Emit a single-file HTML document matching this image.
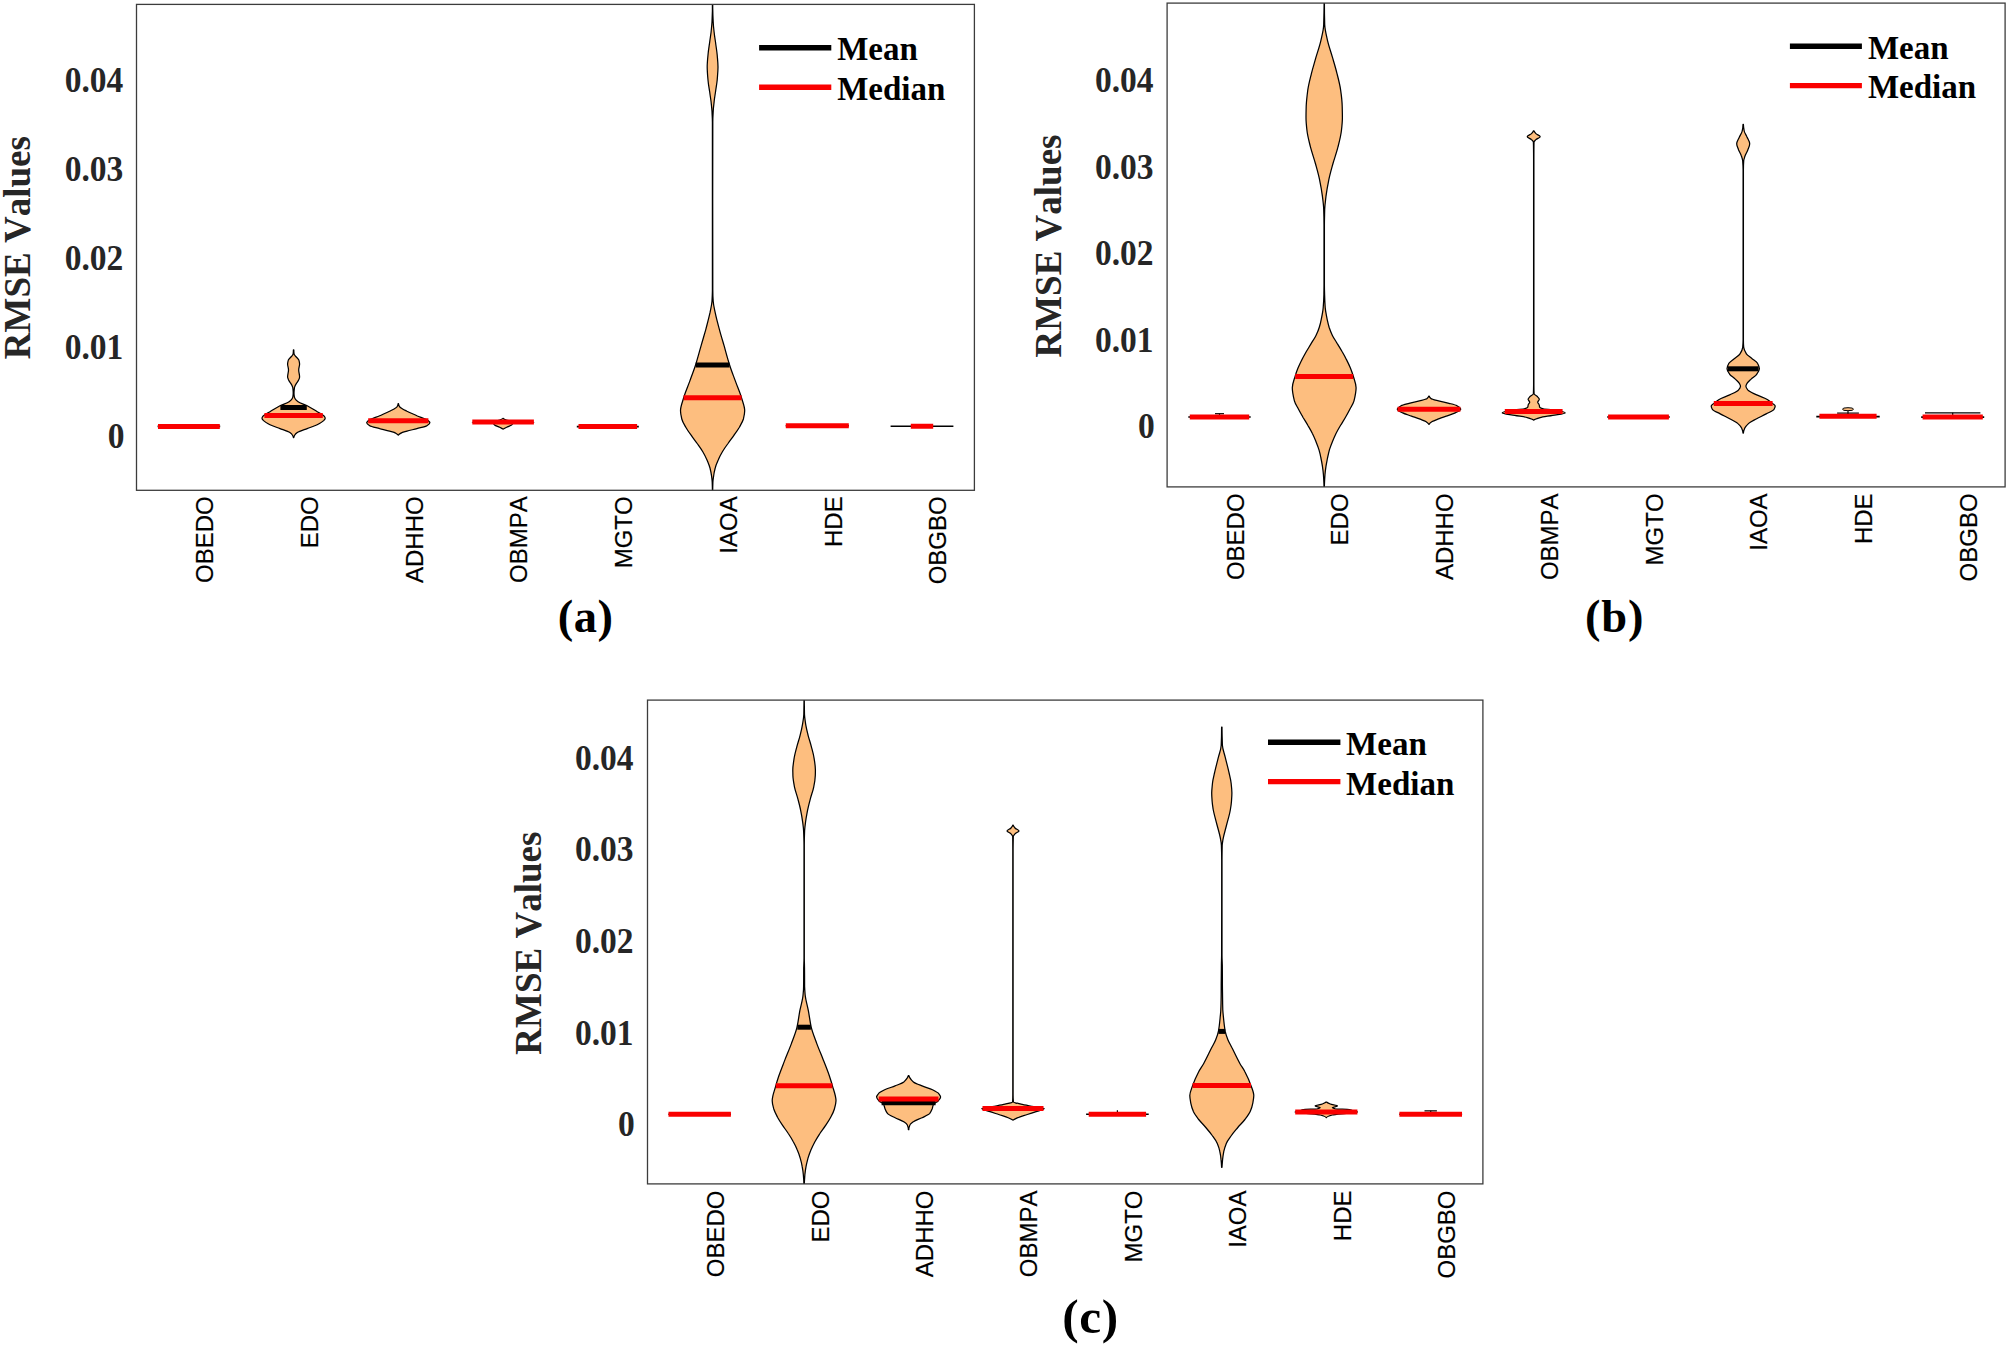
<!DOCTYPE html>
<html lang="en"><head><meta charset="utf-8">
<title>RMSE violin plots</title>
<style>
html,body{margin:0;padding:0;background:#fff;}
body{width:2008px;height:1346px;overflow:hidden;}
svg{display:block;}
.yt{font:bold 33.5px "Liberation Serif","Times New Roman",serif;fill:#262626;text-anchor:end;}
.yl{font:bold 37px "Liberation Serif","Times New Roman",serif;fill:#262626;text-anchor:middle;}
.xt{font:24px "Liberation Sans",Arial,Helvetica,sans-serif;fill:#000;stroke:#000;stroke-width:.2px;text-anchor:end;}
.lg{font:bold 33px "Liberation Serif","Times New Roman",serif;fill:#000;}
.tt{font:bold 46.5px "Liberation Serif","Times New Roman",serif;fill:#000;text-anchor:middle;}
svg text{font-kerning:none !important;font-variant-ligatures:none !important;}
</style></head><body>
<svg width="2008" height="1346" viewBox="0 0 2008 1346">
<rect width="2008" height="1346" fill="#fff"/>
<g id="panel-a">
<clipPath id="clip0"><rect x="136.5" y="4.4" width="837.9" height="485.9"/></clipPath>
<g clip-path="url(#clip0)">
<line x1="157.6" y1="426.4" x2="220.2" y2="426.4" stroke="#000" stroke-width="1.6"/>
<line x1="158" y1="426.4" x2="219.8" y2="426.4" stroke="#FA0000" stroke-width="5.0"/>
<path d="M293.8 349.9C293.8 351.3 293.9 352.6 294.1 354C294.2 354.8 295.2 355.7 295.8 356.5C296.7 357.6 298.4 358.8 298.8 359.9C299.2 361.2 299.6 362.6 299.6 363.9C299.6 365.9 298.7 367.9 298.7 369.9C298.7 372.2 299.6 374.6 299.6 376.9C299.6 377.9 299.1 379 298.6 380C298.2 380.9 297.4 381.9 296.8 382.8C296.3 383.7 295.6 384.6 295.2 385.5C294.9 386.3 294.5 387 294.4 387.8C294.2 389.5 294 391.3 294 393C294 394.2 294.1 395.3 294.3 396.5C294.4 397.3 294.7 398 295.1 398.8C295.6 399.8 296.7 400.8 298.1 401.8C299.9 403.1 304.6 404.4 307.2 405.7C311.1 407.7 314 409.7 317.2 411.7C319.6 413.2 323.1 414.7 324.2 416.2C324.7 416.9 325.2 417.5 325.2 418.2C325.2 419 324.3 419.9 323.6 420.7C322.4 422 319.8 423.4 317.2 424.7C314.6 426 310.5 427.3 307.2 428.6C303.8 429.9 299.2 431.3 297.3 432.6C296.2 433.4 295.3 434.2 294.8 435C294.3 435.9 293.8 436.7 293.8 437.6L293.4 437.6C293.4 436.7 292.9 435.9 292.4 435C292 434.2 291 433.4 289.9 432.6C288 431.3 283.4 429.9 280 428.6C276.7 427.3 272.6 426 270 424.7C267.4 423.4 264.8 422 263.6 420.7C262.9 419.9 262 419 262 418.2C262 417.5 262.5 416.9 263 416.2C264.1 414.7 267.6 413.2 270 411.7C273.2 409.7 276.1 407.7 280 405.7C282.6 404.4 287.3 403.1 289.1 401.8C290.5 400.8 291.6 399.8 292.1 398.8C292.5 398 292.8 397.3 292.9 396.5C293.1 395.3 293.2 394.2 293.2 393C293.2 391.3 293 389.5 292.8 387.8C292.7 387 292.3 386.3 292 385.5C291.6 384.6 291 383.7 290.4 382.8C289.8 381.9 289 380.9 288.6 380C288.2 379 287.6 377.9 287.6 376.9C287.6 374.6 288.5 372.2 288.5 369.9C288.5 367.9 287.6 365.9 287.6 363.9C287.6 362.6 288 361.2 288.4 359.9C288.8 358.8 290.5 357.6 291.4 356.5C292 355.7 293 354.8 293.1 354C293.3 352.6 293.4 351.3 293.4 349.9Z" fill="#FDBE7F" stroke="#000" stroke-width="1.25" stroke-linejoin="round"/>
<line x1="280.4" y1="407.5" x2="306.8" y2="407.5" stroke="#000" stroke-width="5.0"/>
<line x1="264.4" y1="415.4" x2="322.8" y2="415.4" stroke="#FA0000" stroke-width="5.0"/>
<path d="M398.5 403.7C398.5 404.7 399 405.7 399.5 406.7C400 407.5 401.7 408.4 403 409.2C404.1 409.9 405.7 410.5 407 411.2C410.2 412.7 413.7 414.2 416.9 415.7C421 417.5 427.2 419.4 428.9 421.2C429.4 421.7 429.9 422.2 429.9 422.7C429.9 423.7 428.5 424.7 426.9 425.7C425.4 426.7 420.5 427.6 416.9 428.6C413.9 429.4 409.9 430.3 407 431.1C404.8 431.8 402.2 432.4 401 433.1C399.9 433.8 398.8 434.4 398.5 435.1L398.1 435.1C397.9 434.4 396.8 433.8 395.6 433.1C394.5 432.4 391.9 431.8 389.6 431.1C386.8 430.3 382.8 429.4 379.7 428.6C376.2 427.6 371.2 426.7 369.7 425.7C368.2 424.7 366.7 423.7 366.7 422.7C366.7 422.2 367.3 421.7 367.7 421.2C369.4 419.4 375.7 417.5 379.7 415.7C383 414.2 386.5 412.7 389.6 411.2C391 410.5 392.5 409.9 393.6 409.2C395 408.4 396.7 407.5 397.1 406.7C397.7 405.7 398.1 404.7 398.1 403.7Z" fill="#FDBE7F" stroke="#000" stroke-width="1.25" stroke-linejoin="round"/>
<line x1="368.2" y1="420.7" x2="428.4" y2="420.7" stroke="#FA0000" stroke-width="5.0"/>
<path d="M503.3 418.4C503.4 419 505.2 419.7 507.1 420.3C508.4 420.7 509.6 421.2 513.6 421.6C515.7 421.8 534.1 422.1 534.1 422.3C534.1 422.5 514.1 422.8 513.6 423C512.1 423.7 512.5 424.3 511.6 425C510.5 425.8 508.1 426.5 506.6 427.3C505.4 427.9 504.3 428.4 503.3 429L502.9 429C501.8 428.4 500.7 427.9 499.6 427.3C498 426.5 495.6 425.8 494.6 425C493.7 424.3 494.1 423.7 492.6 423C492.1 422.8 472.1 422.5 472.1 422.3C472.1 422.1 490.4 421.8 492.6 421.6C496.6 421.2 497.8 420.7 499.1 420.3C500.9 419.7 502.7 419 502.9 418.4Z" fill="#FDBE7F" stroke="#000" stroke-width="1.25" stroke-linejoin="round"/>
<line x1="472.3" y1="422.1" x2="533.9" y2="422.1" stroke="#FA0000" stroke-width="5.0"/>
<line x1="576.8" y1="426.6" x2="638.8" y2="426.6" stroke="#000" stroke-width="1.6"/>
<line x1="578.5" y1="426.6" x2="637.1" y2="426.6" stroke="#FA0000" stroke-width="5.0"/>
<path d="M712.7 4.4C712.7 6.6 712.7 8.8 712.8 11C712.8 14.7 713 18.3 713.2 22C713.3 25.3 713.7 28.7 714.1 32C714.4 35.3 715 38.7 715.5 42C716 46.3 716.8 50.7 717.2 55C717.5 59 718 63 718 67C718 71.3 717.5 75.7 717.2 80C716.8 84 716 88 715.5 92C715 95.3 714.4 98.7 714.1 102C713.7 105.2 713.3 108.3 713.2 111.5C713 115 712.8 118.5 712.8 122C712.7 148 712.7 174 712.7 200C712.7 230 712.7 260 712.8 290C712.8 293.8 712.9 297.5 713.2 301.3C713.4 305.1 714.4 308.9 715.2 312.7C716.3 318.2 717.8 323.6 719.3 329.1C720.7 334.5 722.4 340 724 345.4C725.8 351.9 727.5 358.5 729.6 365C731.3 370.5 733.5 375.9 735.5 381.4C737.4 386.8 739.9 392.3 741.5 397.7C742.7 402.1 744.7 406.4 744.7 410.8C744.7 413.5 744 416.3 743.4 419C742.7 421.7 740.9 424.5 739.4 427.2C737.8 429.9 735.8 432.7 733.9 435.4C732 438.1 729.9 440.8 728 443.5C726 446.2 724 449 722.4 451.7C720.8 454.4 719.3 457.2 718.2 459.9C717 462.6 715.8 465.3 715.2 468C714.5 470.7 713.9 473.5 713.6 476.2C713.3 478.1 713 480.1 712.9 482C712.8 484.8 712.7 487.5 712.7 490.3L712.4 490.3C712.4 487.5 712.3 484.8 712.2 482C712.1 480.1 711.8 478.1 711.6 476.2C711.2 473.5 710.7 470.7 710 468C709.3 465.3 708.1 462.6 707 459.9C705.8 457.2 704.4 454.4 702.8 451.7C701.2 449 699.1 446.2 697.2 443.5C695.3 440.8 693.1 438.1 691.3 435.4C689.3 432.7 687.3 429.9 685.8 427.2C684.2 424.5 682.4 421.7 681.8 419C681.1 416.3 680.5 413.5 680.5 410.8C680.5 406.4 682.4 402.1 683.7 397.7C685.2 392.3 687.7 386.8 689.7 381.4C691.6 375.9 693.8 370.5 695.6 365C697.6 358.5 699.3 351.9 701.2 345.4C702.7 340 704.4 334.5 705.9 329.1C707.3 323.6 708.8 318.2 710 312.7C710.7 308.9 711.7 305.1 712 301.3C712.2 297.5 712.4 293.8 712.4 290C712.4 260 712.4 230 712.4 200C712.4 174 712.4 148 712.4 122C712.4 118.5 712.1 115 712 111.5C711.8 108.3 711.4 105.2 711.1 102C710.7 98.7 710.1 95.3 709.7 92C709.1 88 708.3 84 708 80C707.6 75.7 707.2 71.3 707.2 67C707.2 63 707.6 59 708 55C708.3 50.7 709.1 46.3 709.7 42C710.1 38.7 710.7 35.3 711.1 32C711.4 28.7 711.8 25.3 712 22C712.1 18.3 712.3 14.7 712.4 11C712.4 8.8 712.4 6.6 712.4 4.4Z" fill="#FDBE7F" stroke="#000" stroke-width="1.25" stroke-linejoin="round"/>
<line x1="695.7" y1="365.1" x2="729.5" y2="365.1" stroke="#000" stroke-width="5.0"/>
<line x1="683.6" y1="397.8" x2="741.6" y2="397.8" stroke="#FA0000" stroke-width="5.0"/>
<line x1="785.7" y1="425.8" x2="848.9" y2="425.8" stroke="#000" stroke-width="1.6"/>
<line x1="785.8" y1="425.8" x2="848.8" y2="425.8" stroke="#FA0000" stroke-width="5.0"/>
<line x1="890.6" y1="426.3" x2="953.4" y2="426.3" stroke="#000" stroke-width="1.6"/>
<line x1="910.8" y1="426.3" x2="933.2" y2="426.3" stroke="#FA0000" stroke-width="5.0"/>
</g>
<rect x="136.5" y="4.4" width="837.9" height="485.9" fill="none" stroke="#3c3c3c" stroke-width="1.3"/>
<text class="yt" transform="translate(124.6 448.1) scale(1 1.05)">0</text>
<text class="yt" transform="translate(123.3 359.1) scale(1 1.05)">0.01</text>
<text class="yt" transform="translate(123.3 270) scale(1 1.05)">0.02</text>
<text class="yt" transform="translate(123.3 180.8) scale(1 1.05)">0.03</text>
<text class="yt" transform="translate(123.3 91.7) scale(1 1.05)">0.04</text>
<text class="yl" transform="translate(29.8 247.6) rotate(-90)">RMSE Values</text>
<text class="xt" transform="translate(213.1 496.3) rotate(-90)">OBEDO</text>
<text class="xt" transform="translate(317.8 496.3) rotate(-90)">EDO</text>
<text class="xt" transform="translate(422.5 496.3) rotate(-90)">ADHHO</text>
<text class="xt" transform="translate(527.3 496.3) rotate(-90)">OBMPA</text>
<text class="xt" transform="translate(632 496.3) rotate(-90)">MGTO</text>
<text class="xt" transform="translate(736.8 496.3) rotate(-90)">IAOA</text>
<text class="xt" transform="translate(841.5 496.3) rotate(-90)">HDE</text>
<text class="xt" transform="translate(946.2 496.3) rotate(-90)">OBGBO</text>
<line x1="759.1" y1="47.8" x2="831.3" y2="47.8" stroke="#000" stroke-width="5.4"/>
<line x1="759.1" y1="87.3" x2="831.3" y2="87.3" stroke="#FA0000" stroke-width="5.4"/>
<text class="lg" x="837.2" y="60.2">Mean</text>
<text class="lg" x="837.2" y="100">Median</text>
<text class="tt" x="585.7" y="631.6" style="font-size:46.5px;letter-spacing:0.55px">(a)</text>
</g>
<g id="panel-b">
<clipPath id="clip1"><rect x="1167.1" y="3.1" width="838" height="483.8"/></clipPath>
<g clip-path="url(#clip1)">
<line x1="1188.3" y1="417" x2="1250.7" y2="417" stroke="#000" stroke-width="1.6"/>
<line x1="1215" y1="413.7" x2="1224" y2="413.7" stroke="#000" stroke-width="1.2"/>
<line x1="1219.5" y1="413.7" x2="1219.5" y2="417" stroke="#000" stroke-width="1.2"/>
<line x1="1189.8" y1="417" x2="1249.2" y2="417" stroke="#FA0000" stroke-width="5.0"/>
<path d="M1324.4 3.1C1324.4 10.2 1324.5 17.4 1324.7 24.5C1324.9 30 1326.4 35.4 1327.6 40.9C1328.8 46.3 1330.9 51.8 1332.4 57.2C1334 62.7 1335.7 68.1 1337 73.6C1338.4 79 1339.9 84.5 1340.6 89.9C1341.4 95.4 1342.1 100.8 1342.2 106.3C1342.3 110.1 1342.4 113.9 1342.4 117.7C1342.4 122.1 1341.9 126.4 1341.4 130.8C1340.8 136.3 1339.3 141.7 1337.9 147.2C1336.6 152.6 1334.5 158.1 1333 163.5C1331.5 169 1329.9 174.4 1328.8 179.9C1327.7 185.3 1326.7 190.8 1326 196.2C1325.5 200.6 1324.9 204.9 1324.7 209.3C1324.6 214.5 1324.4 219.8 1324.4 225C1324.4 245 1324.4 265 1324.4 285C1324.4 288.2 1324.5 291.3 1324.6 294.5C1324.7 298.9 1324.9 303.2 1325.2 307.6C1325.5 311.4 1326.4 315.3 1327.1 319.1C1327.7 321.8 1328.3 324.5 1329.1 327.2C1330 329.9 1331.1 332.7 1332.4 335.4C1333.7 338.1 1335.7 340.9 1337.3 343.6C1339 346.3 1340.7 349.1 1342.2 351.8C1343.8 354.5 1345.3 357.2 1346.6 359.9C1348 362.6 1349.3 365.4 1350.4 368.1C1351.5 370.8 1352.5 373.6 1353.3 376.3C1354.4 380.1 1356.1 383.9 1356.1 387.7C1356.1 392.1 1355.1 396.4 1354 400.8C1353.3 403.5 1351.4 406.3 1350 409C1348.6 411.7 1347.1 414.5 1345.5 417.2C1344 419.9 1342.2 422.6 1340.6 425.3C1339 428 1337.4 430.8 1336 433.5C1334.7 436.2 1333.5 439 1332.4 441.7C1331.3 444.4 1330.2 447.2 1329.4 449.9C1328.7 452.6 1328.1 455.3 1327.5 458C1327 460.7 1326.4 463.5 1326 466.2C1325.6 468.9 1325.2 471.7 1325 474.4C1324.7 478.6 1324.4 482.7 1324.4 486.9L1324 486.9C1324 482.7 1323.7 478.6 1323.4 474.4C1323.2 471.7 1322.8 468.9 1322.4 466.2C1322 463.5 1321.5 460.7 1320.9 458C1320.4 455.3 1319.8 452.6 1319 449.9C1318.2 447.2 1317.1 444.4 1316 441.7C1314.9 439 1313.8 436.2 1312.4 433.5C1311.1 430.8 1309.4 428 1307.8 425.3C1306.3 422.6 1304.5 419.9 1302.9 417.2C1301.4 414.5 1299.8 411.7 1298.4 409C1297 406.3 1295.1 403.5 1294.4 400.8C1293.3 396.4 1292.3 392.1 1292.3 387.7C1292.3 383.9 1294 380.1 1295.1 376.3C1295.9 373.6 1296.9 370.8 1298 368.1C1299.1 365.4 1300.5 362.6 1301.8 359.9C1303.2 357.2 1304.7 354.5 1306.2 351.8C1307.8 349.1 1309.5 346.3 1311.1 343.6C1312.8 340.9 1314.7 338.1 1316 335.4C1317.3 332.7 1318.5 329.9 1319.3 327.2C1320.2 324.5 1320.8 321.8 1321.3 319.1C1322.1 315.3 1322.9 311.4 1323.2 307.6C1323.6 303.2 1323.8 298.9 1323.9 294.5C1323.9 291.3 1324 288.2 1324 285C1324 265 1324 245 1324 225C1324 219.8 1323.9 214.5 1323.7 209.3C1323.6 204.9 1323 200.6 1322.4 196.2C1321.7 190.8 1320.7 185.3 1319.6 179.9C1318.5 174.4 1316.9 169 1315.4 163.5C1313.9 158.1 1311.9 152.6 1310.5 147.2C1309.2 141.7 1307.6 136.3 1307 130.8C1306.5 126.4 1306 122.1 1306 117.7C1306 113.9 1306.1 110.1 1306.2 106.3C1306.4 100.8 1307.1 95.4 1307.8 89.9C1308.6 84.5 1310.1 79 1311.4 73.6C1312.8 68.1 1314.5 62.7 1316 57.2C1317.6 51.8 1319.6 46.3 1320.8 40.9C1322 35.4 1323.6 30 1323.7 24.5C1323.9 17.4 1324.1 10.2 1324.1 3.1Z" fill="#FDBE7F" stroke="#000" stroke-width="1.25" stroke-linejoin="round"/>
<line x1="1295.2" y1="376.4" x2="1353.2" y2="376.4" stroke="#FA0000" stroke-width="5.0"/>
<path d="M1429.2 396.1C1429.2 396.9 1429.9 397.7 1430.9 398.5C1431.8 399.3 1435.6 400.1 1438.6 400.9C1441.5 401.7 1446 402.5 1449 403.3C1452 404.1 1455.5 404.9 1456.9 405.7C1458.8 406.9 1460.7 408 1460.7 409.2C1460.7 410.4 1457.6 411.7 1455.3 412.9C1453.2 414 1449.4 415 1446.5 416.1C1443.6 417.1 1440.4 418.2 1437.8 419.2C1435.7 420 1433.4 420.8 1432.2 421.6C1430.8 422.5 1429.6 423.4 1429.2 424.3L1428.8 424.3C1428.4 423.4 1427.1 422.5 1425.8 421.6C1424.6 420.8 1422.2 420 1420.2 419.2C1417.6 418.2 1414.3 417.1 1411.5 416.1C1408.5 415 1404.7 414 1402.7 412.9C1400.3 411.7 1397.3 410.4 1397.3 409.2C1397.3 408 1399.1 406.9 1401.1 405.7C1402.4 404.9 1406 404.1 1409 403.3C1412 402.5 1416.4 401.7 1419.4 400.9C1422.3 400.1 1426.1 399.3 1427.1 398.5C1428 397.7 1428.8 396.9 1428.8 396.1Z" fill="#FDBE7F" stroke="#000" stroke-width="1.25" stroke-linejoin="round"/>
<line x1="1397.6" y1="409.2" x2="1460.4" y2="409.2" stroke="#FA0000" stroke-width="5.0"/>
<path d="M1533.9 130.8C1534.3 131.7 1535 132.7 1535.9 133.6C1536.9 134.6 1540.2 135.7 1540.2 136.7C1540.2 137.7 1536.9 138.6 1535.9 139.6C1535.1 140.5 1534 141.3 1534 142.2C1533.9 148.1 1533.9 154.1 1533.9 160C1533.9 235 1533.9 310 1533.9 385C1533.9 387.9 1533.9 390.8 1534.1 393.7C1534.1 394.8 1536.8 395.8 1537.7 396.9C1538.4 397.7 1539.3 398.5 1539.3 399.3C1539.3 400.3 1537.7 401.2 1537.7 402.2C1537.7 403.1 1539 404 1539.2 404.9C1539.5 405.7 1539.4 406.5 1539.7 407.3C1539.9 407.8 1541.4 408.4 1543.3 408.9C1545.2 409.4 1555.2 410 1557.7 410.5C1561.6 411.3 1565.2 412.1 1565.2 412.9C1565.2 413.7 1557 414.5 1552.7 415.3C1548.6 416.1 1542.8 416.8 1540.1 417.6C1537.3 418.4 1534.8 419.2 1533.9 420L1533.5 420C1532.6 419.2 1530.1 418.4 1527.3 417.6C1524.6 416.8 1518.8 416.1 1514.7 415.3C1510.5 414.5 1502.2 413.7 1502.2 412.9C1502.2 412.1 1505.9 411.3 1509.7 410.5C1512.3 410 1522.2 409.4 1524.1 408.9C1526 408.4 1527.5 407.8 1527.7 407.3C1528 406.5 1528 405.7 1528.2 404.9C1528.5 404 1529.7 403.1 1529.7 402.2C1529.7 401.2 1528.1 400.3 1528.1 399.3C1528.1 398.5 1529.1 397.7 1529.7 396.9C1530.6 395.8 1533.3 394.8 1533.4 393.7C1533.5 390.8 1533.6 387.9 1533.6 385C1533.6 310 1533.6 235 1533.6 160C1533.6 154.1 1533.6 148.1 1533.4 142.2C1533.4 141.3 1532.4 140.5 1531.5 139.6C1530.6 138.6 1527.2 137.7 1527.2 136.7C1527.2 135.7 1530.6 134.6 1531.5 133.6C1532.4 132.7 1533.2 131.7 1533.5 130.8Z" fill="#FDBE7F" stroke="#000" stroke-width="1.25" stroke-linejoin="round"/>
<line x1="1504.8" y1="411.6" x2="1562.6" y2="411.6" stroke="#FA0000" stroke-width="5.0"/>
<line x1="1607.2" y1="417" x2="1669.8" y2="417" stroke="#000" stroke-width="1.6"/>
<line x1="1608.1" y1="417" x2="1668.9" y2="417" stroke="#FA0000" stroke-width="5.0"/>
<path d="M1743.4 124.4C1743.4 126.6 1743.8 128.8 1744.2 131C1744.6 133 1746.2 135 1747 137C1748 139.3 1749.7 141.5 1749.7 143.8C1749.7 145.9 1748.6 147.9 1747.8 150C1747.1 152 1745.7 154 1745 156C1744.5 157.7 1743.8 159.3 1743.7 161C1743.5 164 1743.4 167 1743.4 170C1743.4 226.7 1743.4 283.3 1743.4 340C1743.4 342.5 1743.5 344.9 1743.7 347.4C1743.9 349.5 1745.1 351.7 1746.4 353.8C1747.4 355.4 1750.1 356.9 1751.9 358.5C1753.8 360.1 1756.7 361.7 1757.5 363.3C1758.5 365.1 1759.4 367 1759.4 368.8C1759.4 370.6 1758 372.5 1756.7 374.3C1755.6 375.9 1752.8 377.5 1751.1 379.1C1749.5 380.7 1747.6 382.2 1746.8 383.8C1746.4 384.6 1745.9 385.4 1745.9 386.2C1745.9 387.5 1747 388.9 1748 390.2C1749.3 391.8 1753.5 393.3 1756.7 394.9C1760 396.5 1765.1 398.1 1767.7 399.7C1769.8 401 1771.2 402.3 1772.7 403.6C1773.6 404.4 1775.2 405.2 1775.2 406C1775.2 407.1 1774.7 408.1 1774.1 409.2C1773.3 410.8 1769.1 412.3 1766.2 413.9C1763.3 415.5 1759.7 417.1 1756.7 418.7C1753.9 420.3 1750.5 421.8 1748.7 423.4C1747 425 1745.5 426.5 1744.8 428.1C1744.1 429.7 1743.4 431.4 1743.4 433L1743 433C1743 431.4 1742.3 429.7 1741.6 428.1C1741 426.5 1739.5 425 1737.7 423.4C1736 421.8 1732.6 420.3 1729.7 418.7C1726.8 417.1 1723.1 415.5 1720.2 413.9C1717.4 412.3 1713.2 410.8 1712.3 409.2C1711.7 408.1 1711.2 407.1 1711.2 406C1711.2 405.2 1712.8 404.4 1713.7 403.6C1715.2 402.3 1716.6 401 1718.7 399.7C1721.3 398.1 1726.4 396.5 1729.7 394.9C1732.9 393.3 1737.2 391.8 1738.4 390.2C1739.5 388.9 1740.5 387.5 1740.5 386.2C1740.5 385.4 1740 384.6 1739.6 383.8C1738.8 382.2 1736.9 380.7 1735.3 379.1C1733.7 377.5 1730.8 375.9 1729.7 374.3C1728.4 372.5 1727 370.6 1727 368.8C1727 367 1727.9 365.1 1728.9 363.3C1729.8 361.7 1732.7 360.1 1734.5 358.5C1736.4 356.9 1739 355.4 1740 353.8C1741.4 351.7 1742.5 349.5 1742.7 347.4C1742.9 344.9 1743.1 342.5 1743.1 340C1743.1 283.3 1743.1 226.7 1743.1 170C1743.1 167 1742.9 164 1742.7 161C1742.6 159.3 1742 157.7 1741.4 156C1740.8 154 1739.4 152 1738.6 150C1737.9 147.9 1736.7 145.9 1736.7 143.8C1736.7 141.5 1738.5 139.3 1739.4 137C1740.3 135 1741.8 133 1742.2 131C1742.7 128.8 1743 126.6 1743 124.4Z" fill="#FDBE7F" stroke="#000" stroke-width="1.25" stroke-linejoin="round"/>
<line x1="1727.8" y1="368.8" x2="1758.6" y2="368.8" stroke="#000" stroke-width="5.0"/>
<line x1="1713.8" y1="403.6" x2="1772.6" y2="403.6" stroke="#FA0000" stroke-width="5.0"/>
<line x1="1816.3" y1="416.6" x2="1879.7" y2="416.6" stroke="#000" stroke-width="1.6"/>
<line x1="1837.1" y1="413.1" x2="1858.9" y2="413.1" stroke="#000" stroke-width="1.2"/>
<line x1="1848" y1="410.5" x2="1848" y2="416.3" stroke="#000" stroke-width="1.2"/>
<ellipse cx="1848" cy="409.2" rx="5.5" ry="1.5" fill="#FDBE7F" stroke="#000" stroke-width="1"/>
<line x1="1819.4" y1="416.3" x2="1876.6" y2="416.3" stroke="#FA0000" stroke-width="5.0"/>
<line x1="1921.2" y1="417.1" x2="1984.2" y2="417.1" stroke="#000" stroke-width="1.6"/>
<line x1="1925" y1="412.8" x2="1980.4" y2="412.8" stroke="#000" stroke-width="1.2"/>
<line x1="1952.7" y1="412.8" x2="1952.7" y2="417.1" stroke="#000" stroke-width="1.2"/>
<line x1="1922.6" y1="417.1" x2="1982.8" y2="417.1" stroke="#FA0000" stroke-width="5.0"/>
</g>
<rect x="1167.1" y="3.1" width="838" height="483.8" fill="none" stroke="#3c3c3c" stroke-width="1.3"/>
<text class="yt" transform="translate(1154.8 438.3) scale(1 1.05)">0</text>
<text class="yt" transform="translate(1153.5 351.7) scale(1 1.05)">0.01</text>
<text class="yt" transform="translate(1153.5 265.2) scale(1 1.05)">0.02</text>
<text class="yt" transform="translate(1153.5 178.5) scale(1 1.05)">0.03</text>
<text class="yt" transform="translate(1153.5 91.8) scale(1 1.05)">0.04</text>
<text class="yl" transform="translate(1060.8 246) rotate(-90)">RMSE Values</text>
<text class="xt" transform="translate(1243.5 493.4) rotate(-90)">OBEDO</text>
<text class="xt" transform="translate(1348.2 493.4) rotate(-90)">EDO</text>
<text class="xt" transform="translate(1453 493.4) rotate(-90)">ADHHO</text>
<text class="xt" transform="translate(1557.7 493.4) rotate(-90)">OBMPA</text>
<text class="xt" transform="translate(1662.5 493.4) rotate(-90)">MGTO</text>
<text class="xt" transform="translate(1767.2 493.4) rotate(-90)">IAOA</text>
<text class="xt" transform="translate(1872 493.4) rotate(-90)">HDE</text>
<text class="xt" transform="translate(1976.7 493.4) rotate(-90)">OBGBO</text>
<line x1="1789.9" y1="46.3" x2="1861.9" y2="46.3" stroke="#000" stroke-width="5.4"/>
<line x1="1789.9" y1="85.6" x2="1861.9" y2="85.6" stroke="#FA0000" stroke-width="5.4"/>
<text class="lg" x="1867.9" y="58.6">Mean</text>
<text class="lg" x="1867.9" y="98.3">Median</text>
<text class="tt" x="1614.7" y="631.6" style="font-size:46.5px;letter-spacing:0.8px">(b)</text>
</g>
<g id="panel-c">
<clipPath id="clip2"><rect x="647.5" y="700.1" width="835.4" height="483.8"/></clipPath>
<g clip-path="url(#clip2)">
<line x1="668.4" y1="1114.2" x2="731" y2="1114.2" stroke="#000" stroke-width="1.6"/>
<line x1="668.5" y1="1114.2" x2="730.9" y2="1114.2" stroke="#FA0000" stroke-width="5.0"/>
<path d="M804.3 700.1C804.3 704.9 804.4 709.8 804.5 714.6C804.6 717.7 805.2 720.7 805.6 723.8C806.2 727.6 807.2 731.5 808.1 735.3C809.1 739.1 810.4 743 811.4 746.8C812.4 750.6 813.6 754.5 814.1 758.3C814.7 762.1 815.4 766 815.4 769.8C815.4 771.7 815.4 773.7 815.3 775.6C815.2 779.4 814.5 783.3 813.7 787.1C813 790.9 811.4 794.8 810.4 798.6C809.4 802.4 808.4 806.3 807.6 810.1C806.9 813.9 806.1 817.8 805.6 821.6C805.2 824.7 804.8 827.7 804.6 830.8C804.4 835.5 804.3 840.3 804.3 845C804.3 882.7 804.3 920.3 804.3 958C804.3 961.3 804.5 964.7 804.5 968C804.6 974.1 804.6 980.3 804.6 986.4C804.7 989.1 804.9 991.8 805.1 994.5C805.6 1000 807.4 1005.4 808.4 1010.9C809.4 1016.3 810 1021.8 811.2 1027.2C812.5 1032.7 814.8 1038.1 816.8 1043.6C818.8 1049 821.2 1054.5 823.3 1059.9C825.5 1065.4 827.7 1070.8 829.5 1076.3C830.6 1079.6 831.7 1082.8 832.5 1086.1C833.9 1091 836 1095.9 836 1100.8C836 1103.5 835.2 1106.3 834.4 1109C833.7 1111.7 832.2 1114.5 830.7 1117.2C829.3 1119.9 827.4 1122.7 825.6 1125.4C823.9 1128.1 821.7 1130.8 819.9 1133.5C818.2 1136.2 816.4 1139 814.9 1141.7C813.5 1144.4 812.1 1147.2 810.9 1149.9C809.8 1152.6 808.8 1155.4 808 1158.1C807.3 1160.8 806.6 1163.5 806.1 1166.2C805.6 1168.9 805.2 1171.7 804.9 1174.4C804.7 1177.6 804.4 1180.7 804.3 1183.9L803.9 1183.9C803.9 1180.7 803.6 1177.6 803.3 1174.4C803.1 1171.7 802.6 1168.9 802.1 1166.2C801.7 1163.5 801 1160.8 800.2 1158.1C799.5 1155.4 798.5 1152.6 797.3 1149.9C796.2 1147.2 794.8 1144.4 793.3 1141.7C791.9 1139 790.1 1136.2 788.3 1133.5C786.6 1130.8 784.4 1128.1 782.6 1125.4C780.8 1122.7 779 1119.9 777.5 1117.2C776.1 1114.5 774.6 1111.7 773.8 1109C773.1 1106.3 772.2 1103.5 772.2 1100.8C772.2 1095.9 774.4 1091 775.7 1086.1C776.6 1082.8 777.6 1079.6 778.7 1076.3C780.6 1070.8 782.8 1065.4 784.9 1059.9C787 1054.5 789.4 1049 791.4 1043.6C793.4 1038.1 795.8 1032.7 797 1027.2C798.3 1021.8 798.8 1016.3 799.8 1010.9C800.9 1005.4 802.7 1000 803.1 994.5C803.4 991.8 803.6 989.1 803.6 986.4C803.7 980.3 803.7 974.1 803.7 968C803.8 964.7 804 961.3 804 958C804 920.3 804 882.7 804 845C804 840.3 803.8 835.5 803.6 830.8C803.5 827.7 803 824.7 802.6 821.6C802.1 817.8 801.4 813.9 800.6 810.1C799.9 806.3 798.8 802.4 797.8 798.6C796.8 794.8 795.3 790.9 794.5 787.1C793.8 783.3 793 779.4 792.9 775.6C792.9 773.7 792.8 771.7 792.8 769.8C792.8 766 793.6 762.1 794.1 758.3C794.7 754.5 795.8 750.6 796.8 746.8C797.8 743 799.2 739.1 800.1 735.3C801.1 731.5 802 727.6 802.6 723.8C803.1 720.7 803.7 717.7 803.8 714.6C803.9 709.8 804 704.9 804 700.1Z" fill="#FDBE7F" stroke="#000" stroke-width="1.25" stroke-linejoin="round"/>
<line x1="797.3" y1="1027.2" x2="810.9" y2="1027.2" stroke="#000" stroke-width="5.0"/>
<line x1="775.8" y1="1085.8" x2="832.4" y2="1085.8" stroke="#FA0000" stroke-width="5.0"/>
<path d="M908.8 1075.5C909 1076.3 909.4 1077.1 909.9 1077.9C910.6 1079.2 911.7 1080.6 913.4 1081.9C915 1083.2 918.9 1084.6 922.1 1085.9C925.2 1087.2 929.9 1088.5 932.5 1089.8C935.1 1091.1 937.8 1092.5 938.9 1093.8C939.7 1094.9 940.6 1095.9 940.6 1097C940.6 1098.3 939.2 1099.7 938.1 1101C937.1 1102.1 934.1 1103.1 933.6 1104.2C932.7 1105.8 932.7 1107.4 932.1 1109C931.4 1110.6 930.9 1112.1 929.6 1113.7C928.4 1115 924.7 1116.4 922.1 1117.7C919.4 1119 915.3 1120.4 913.4 1121.7C911.8 1122.8 910.3 1123.8 909.9 1124.9C909.2 1126.5 908.8 1128.1 908.8 1129.7L908.4 1129.7C908.4 1128.1 907.9 1126.5 907.3 1124.9C906.8 1123.8 905.3 1122.8 903.8 1121.7C901.8 1120.4 897.7 1119 895.1 1117.7C892.4 1116.4 888.7 1115 887.6 1113.7C886.2 1112.1 885.7 1110.6 885.1 1109C884.4 1107.4 884.4 1105.8 883.6 1104.2C883 1103.1 880 1102.1 879.1 1101C877.9 1099.7 876.6 1098.3 876.6 1097C876.6 1095.9 877.4 1094.9 878.3 1093.8C879.3 1092.5 882 1091.1 884.7 1089.8C887.3 1088.5 891.9 1087.2 895.1 1085.9C898.3 1084.6 902.1 1083.2 903.8 1081.9C905.4 1080.6 906.5 1079.2 907.3 1077.9C907.7 1077.1 908.1 1076.3 908.4 1075.5Z" fill="#FDBE7F" stroke="#000" stroke-width="1.25" stroke-linejoin="round"/>
<line x1="881.6" y1="1102.7" x2="935.6" y2="1102.7" stroke="#000" stroke-width="5.0"/>
<line x1="878.7" y1="1099.1" x2="938.5" y2="1099.1" stroke="#FA0000" stroke-width="5.0"/>
<path d="M1013.2 825.1C1013.4 826.1 1014.2 827 1015 828C1015.8 829 1019 829.9 1019 830.9C1019 831.9 1015.8 832.8 1015 833.8C1014.2 834.7 1013.3 835.7 1013.3 836.6C1013.2 841.1 1013.1 845.5 1013.1 850C1013.1 931.7 1013.1 1013.3 1013.1 1095C1013.1 1097.3 1013.2 1099.5 1013.4 1101.8C1013.5 1102.6 1017.8 1103.4 1021 1104.2C1024.2 1105 1029.5 1105.8 1033.7 1106.6C1037.2 1107.3 1044.3 1107.9 1044.3 1108.6C1044.3 1109.5 1039.5 1110.5 1036.9 1111.4C1033.9 1112.4 1030.4 1113.5 1027.3 1114.5C1024.1 1115.6 1020.2 1116.6 1017.8 1117.7C1015.9 1118.5 1014.4 1119.3 1013.2 1120.1L1012.8 1120.1C1011.6 1119.3 1010 1118.5 1008.2 1117.7C1005.7 1116.6 1001.9 1115.6 998.7 1114.5C995.6 1113.5 992 1112.4 989.1 1111.4C986.4 1110.5 981.7 1109.5 981.7 1108.6C981.7 1107.9 988.8 1107.3 992.3 1106.6C996.5 1105.8 1001.8 1105 1005 1104.2C1008.2 1103.4 1012.5 1102.6 1012.6 1101.8C1012.8 1099.5 1012.8 1097.3 1012.8 1095C1012.8 1013.3 1012.8 931.7 1012.8 850C1012.8 845.5 1012.8 841.1 1012.7 836.6C1012.7 835.7 1011.8 834.7 1011 833.8C1010.2 832.8 1007 831.9 1007 830.9C1007 829.9 1010.2 829 1011 828C1011.8 827 1012.6 826.1 1012.8 825.1Z" fill="#FDBE7F" stroke="#000" stroke-width="1.25" stroke-linejoin="round"/>
<line x1="982.5" y1="1108.6" x2="1043.5" y2="1108.6" stroke="#FA0000" stroke-width="5.0"/>
<line x1="1086.1" y1="1114.2" x2="1148.7" y2="1114.2" stroke="#000" stroke-width="1.6"/>
<line x1="1117.4" y1="1110.2" x2="1117.4" y2="1114.2" stroke="#000" stroke-width="1.2"/>
<line x1="1088.7" y1="1114.2" x2="1146.1" y2="1114.2" stroke="#FA0000" stroke-width="5.0"/>
<path d="M1222 727C1222 733.1 1222.2 739.2 1222.4 745.3C1222.6 749.3 1224.3 753.2 1225.2 757.2C1226.4 762.2 1227.8 767.2 1228.9 772.2C1229.7 775.8 1230.7 779.4 1231.1 783C1231.5 786.4 1231.9 789.7 1231.9 793.1C1231.9 795.7 1231.7 798.4 1231.5 801C1231.3 803.8 1230.9 806.7 1230.4 809.5C1229.6 814.5 1228 819.5 1226.7 824.5C1225.5 829.5 1223.9 834.4 1223 839.4C1222.7 841.4 1222.3 843.4 1222.2 845.4C1222.1 850.3 1222 855.1 1222 860C1222 891.7 1222 923.3 1222 955C1222 958.3 1222.2 961.7 1222.3 965C1222.4 971.7 1222.4 978.3 1222.4 985C1222.5 990 1222.5 995 1222.6 1000C1222.6 1003.3 1222.7 1006.7 1222.8 1010C1222.9 1012 1223.1 1013.9 1223.3 1015.9C1223.8 1021.1 1224.3 1026.2 1225.2 1031.4C1225.8 1034.2 1226.8 1037 1227.9 1039.8C1229 1042.5 1230.7 1045.1 1232 1047.8C1234.7 1053.1 1237.1 1058.4 1240 1063.7C1241.5 1066.4 1243.6 1069 1244.9 1071.7C1247.3 1076.3 1249.5 1081 1251 1085.6C1252.2 1088.9 1253.8 1092.3 1253.8 1095.6C1253.8 1098.3 1253.2 1100.9 1252.7 1103.6C1252.2 1106.3 1251.4 1108.9 1250.2 1111.6C1249.1 1114.2 1246.9 1116.9 1244.9 1119.5C1242.9 1122.2 1240.1 1124.8 1237.8 1127.5C1235.6 1130.2 1233.3 1132.8 1231.4 1135.5C1229.6 1138.1 1227.4 1140.8 1226.3 1143.4C1225.2 1146.1 1224.4 1148.7 1223.8 1151.4C1223.3 1154.1 1222.9 1156.7 1222.6 1159.4C1222.4 1162 1222.1 1164.7 1222 1167.3L1221.6 1167.3C1221.5 1164.7 1221.3 1162 1221 1159.4C1220.8 1156.7 1220.4 1154.1 1219.8 1151.4C1219.3 1148.7 1218.5 1146.1 1217.3 1143.4C1216.2 1140.8 1214.1 1138.1 1212.2 1135.5C1210.3 1132.8 1208.1 1130.2 1205.8 1127.5C1203.6 1124.8 1200.8 1122.2 1198.7 1119.5C1196.7 1116.9 1194.6 1114.2 1193.4 1111.6C1192.3 1108.9 1191.4 1106.3 1190.9 1103.6C1190.4 1100.9 1189.8 1098.3 1189.8 1095.6C1189.8 1092.3 1191.5 1088.9 1192.6 1085.6C1194.2 1081 1196.3 1076.3 1198.7 1071.7C1200.1 1069 1202.1 1066.4 1203.6 1063.7C1206.6 1058.4 1208.9 1053.1 1211.6 1047.8C1213 1045.1 1214.7 1042.5 1215.7 1039.8C1216.8 1037 1217.9 1034.2 1218.4 1031.4C1219.4 1026.2 1219.8 1021.1 1220.3 1015.9C1220.5 1013.9 1220.8 1012 1220.8 1010C1221 1006.7 1221 1003.3 1221.1 1000C1221.2 995 1221.2 990 1221.2 985C1221.3 978.3 1221.3 971.7 1221.4 965C1221.4 961.7 1221.6 958.3 1221.6 955C1221.7 923.3 1221.7 891.7 1221.7 860C1221.7 855.1 1221.6 850.3 1221.4 845.4C1221.4 843.4 1221 841.4 1220.6 839.4C1219.8 834.4 1218.2 829.5 1216.9 824.5C1215.7 819.5 1214.1 814.5 1213.2 809.5C1212.8 806.7 1212.3 803.8 1212.1 801C1211.9 798.4 1211.7 795.7 1211.7 793.1C1211.7 789.7 1212.2 786.4 1212.5 783C1212.9 779.4 1213.9 775.8 1214.7 772.2C1215.8 767.2 1217.2 762.2 1218.4 757.2C1219.4 753.2 1221.1 749.3 1221.2 745.3C1221.5 739.2 1221.6 733.1 1221.6 727Z" fill="#FDBE7F" stroke="#000" stroke-width="1.25" stroke-linejoin="round"/>
<line x1="1218.4" y1="1031.4" x2="1225.2" y2="1031.4" stroke="#000" stroke-width="5.0"/>
<line x1="1192.6" y1="1085.6" x2="1251" y2="1085.6" stroke="#FA0000" stroke-width="5.0"/>
<path d="M1326.5 1102C1327.2 1102.7 1328.6 1103.3 1330.3 1104C1331.9 1104.7 1337.5 1105.3 1337.5 1106C1337.5 1106.5 1332.3 1107.1 1332.3 1107.6C1332.3 1108 1333.4 1108.4 1335.3 1108.8C1336.4 1109 1348.1 1109.3 1349.3 1109.5C1351.1 1109.9 1351.1 1110.2 1352.3 1110.6C1353.7 1111.1 1357.6 1111.5 1357.6 1112C1357.6 1112.5 1350.2 1112.9 1346.3 1113.4C1341.8 1113.9 1334.3 1114.5 1332.3 1115C1329 1115.9 1326.5 1116.7 1326.5 1117.6L1326.1 1117.6C1326.1 1116.7 1323.5 1115.9 1320.3 1115C1318.3 1114.5 1310.7 1113.9 1306.3 1113.4C1302.3 1112.9 1295 1112.5 1295 1112C1295 1111.5 1298.8 1111.1 1300.3 1110.6C1301.4 1110.2 1301.4 1109.9 1303.3 1109.5C1304.4 1109.3 1316.1 1109 1317.3 1108.8C1319.2 1108.4 1320.3 1108 1320.3 1107.6C1320.3 1107.1 1315.1 1106.5 1315.1 1106C1315.1 1105.3 1320.6 1104.7 1322.3 1104C1323.9 1103.3 1325.4 1102.7 1326.1 1102Z" fill="#FDBE7F" stroke="#000" stroke-width="1.25" stroke-linejoin="round"/>
<line x1="1295.2" y1="1112" x2="1357.4" y2="1112" stroke="#FA0000" stroke-width="5.0"/>
<line x1="1399.3" y1="1114.3" x2="1462.1" y2="1114.3" stroke="#000" stroke-width="1.6"/>
<line x1="1424.5" y1="1110.8" x2="1436.9" y2="1110.8" stroke="#000" stroke-width="1.2"/>
<line x1="1430.7" y1="1110.8" x2="1430.7" y2="1114.3" stroke="#000" stroke-width="1.2"/>
<line x1="1399.4" y1="1114.3" x2="1462" y2="1114.3" stroke="#FA0000" stroke-width="5.0"/>
</g>
<rect x="647.5" y="700.1" width="835.4" height="483.8" fill="none" stroke="#3c3c3c" stroke-width="1.3"/>
<text class="yt" transform="translate(634.8 1136.1) scale(1 1.05)">0</text>
<text class="yt" transform="translate(633.5 1044.5) scale(1 1.05)">0.01</text>
<text class="yt" transform="translate(633.5 952.9) scale(1 1.05)">0.02</text>
<text class="yt" transform="translate(633.5 861.4) scale(1 1.05)">0.03</text>
<text class="yt" transform="translate(633.5 769.8) scale(1 1.05)">0.04</text>
<text class="yl" transform="translate(541.2 943.2) rotate(-90)">RMSE Values</text>
<text class="xt" transform="translate(724.1 1190.5) rotate(-90)">OBEDO</text>
<text class="xt" transform="translate(828.5 1190.5) rotate(-90)">EDO</text>
<text class="xt" transform="translate(933 1190.5) rotate(-90)">ADHHO</text>
<text class="xt" transform="translate(1037.4 1190.5) rotate(-90)">OBMPA</text>
<text class="xt" transform="translate(1141.8 1190.5) rotate(-90)">MGTO</text>
<text class="xt" transform="translate(1246.2 1190.5) rotate(-90)">IAOA</text>
<text class="xt" transform="translate(1350.7 1190.5) rotate(-90)">HDE</text>
<text class="xt" transform="translate(1455.1 1190.5) rotate(-90)">OBGBO</text>
<line x1="1268" y1="742.3" x2="1340.4" y2="742.3" stroke="#000" stroke-width="5.4"/>
<line x1="1268" y1="781.6" x2="1340.4" y2="781.6" stroke="#FA0000" stroke-width="5.4"/>
<text class="lg" x="1346.1" y="754.5">Mean</text>
<text class="lg" x="1346.1" y="794.6">Median</text>
<text class="tt" x="1090.5" y="1332.8" style="font-size:49.3px;letter-spacing:0.55px">(c)</text>
</g>
</svg></body></html>
